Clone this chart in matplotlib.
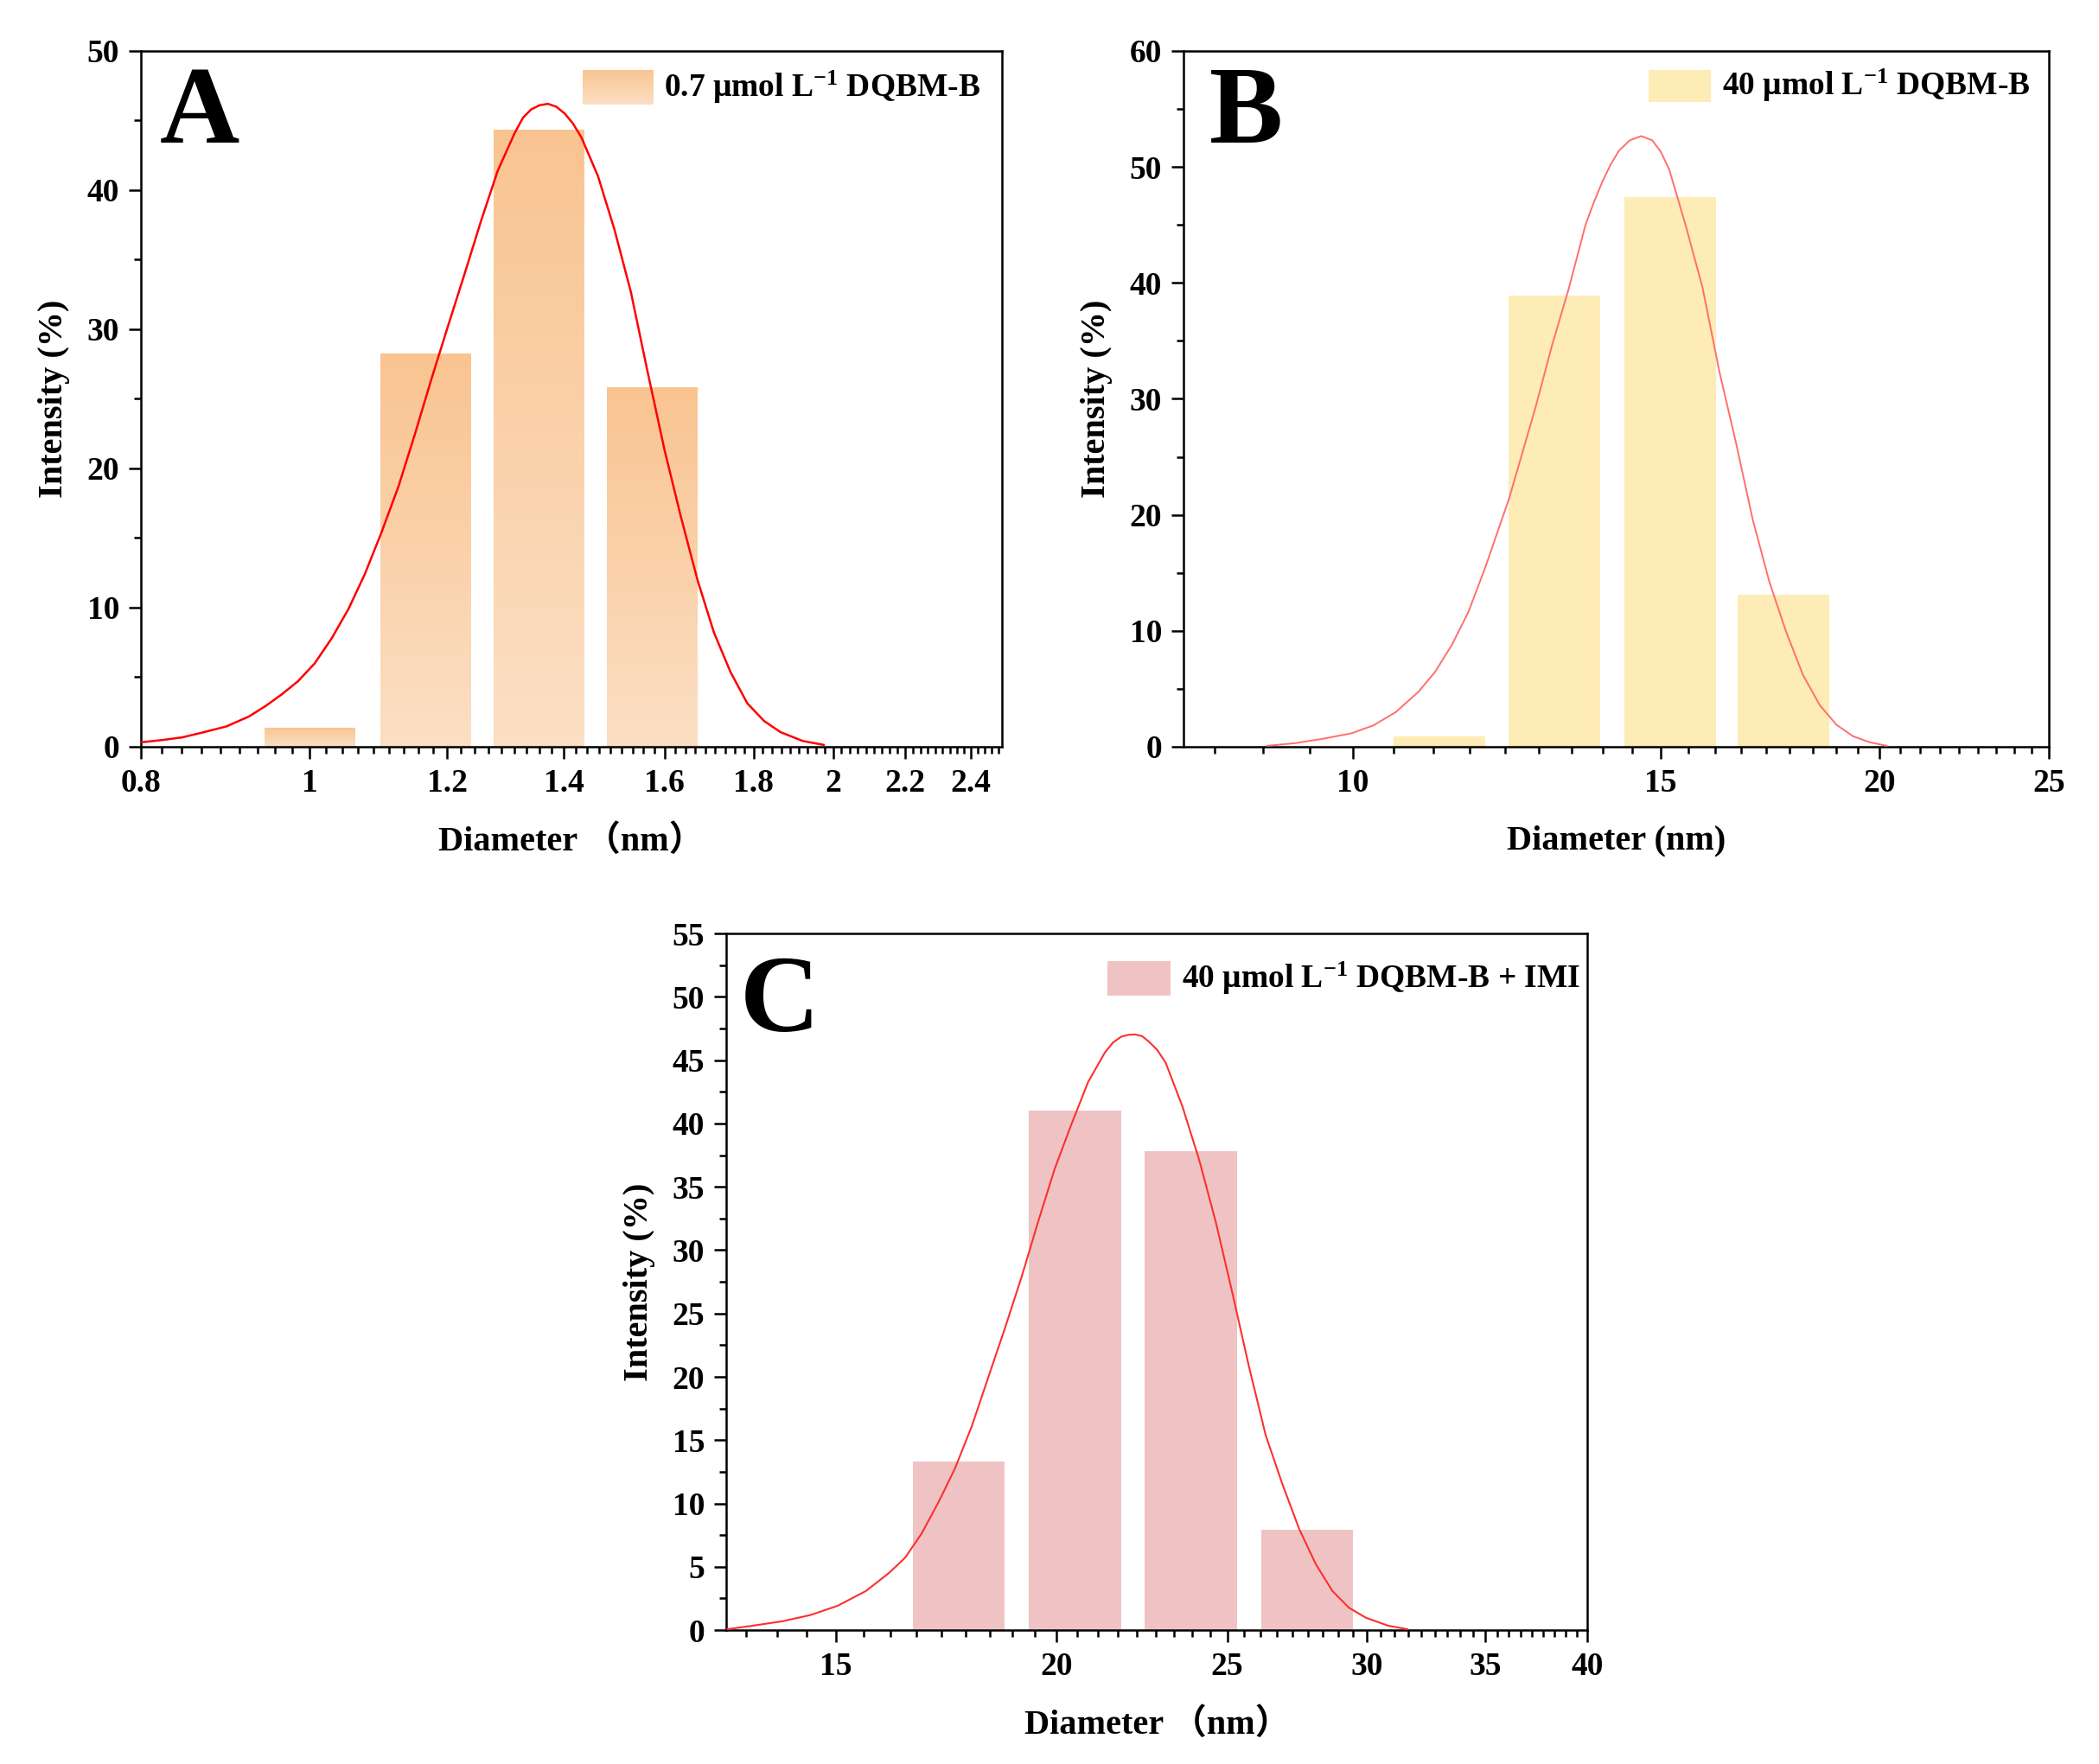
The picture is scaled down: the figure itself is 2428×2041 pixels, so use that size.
import numpy as np
import matplotlib
matplotlib.use("Agg")
from matplotlib import pyplot as plt
from matplotlib.colors import LinearSegmentedColormap
from matplotlib.ticker import MultipleLocator, NullFormatter

plt.rcParams['font.family'] = ['Liberation Serif', 'Noto Sans CJK SC']
plt.rcParams['font.weight'] = 'bold'
plt.rcParams['mathtext.fontset'] = 'custom'
plt.rcParams['mathtext.rm'] = 'Liberation Serif:bold'
plt.rcParams['mathtext.it'] = 'Liberation Serif:bold'
plt.rcParams['mathtext.bf'] = 'Liberation Serif:bold'

# ---- data ----
# panel A : 0.7 umol/L DQBM-B
a_size = [1.001, 1.166, 1.355, 1.574]
a_int = [1.4, 28.3, 44.4, 25.9]
a_fit_x = [0.801, 0.823, 0.845, 0.870, 0.896, 0.923, 0.943, 0.964, 0.985, 1.007,
           1.030, 1.053, 1.076, 1.100, 1.125, 1.150, 1.175, 1.201, 1.228, 1.255,
           1.283, 1.312, 1.3265, 1.341, 1.3559, 1.371, 1.3862, 1.402, 1.417, 1.433,
           1.465, 1.497, 1.530, 1.564, 1.600, 1.635, 1.671, 1.708, 1.746, 1.785,
           1.825, 1.865, 1.921, 1.975]
a_fit_y = [0.32, 0.48, 0.67, 1.05, 1.46, 2.17, 2.9, 3.76, 4.71, 5.99,
           7.8, 9.9, 12.4, 15.4, 18.7, 22.5, 26.4, 30.2, 34.0, 37.8,
           41.4, 44.1, 45.2, 45.8, 46.1, 46.2, 46.0, 45.5, 44.8, 43.8,
           41.0, 37.2, 32.7, 27.0, 21.3, 16.5, 12.0, 8.2, 5.35, 3.12,
           1.85, 1.05, 0.41, 0.13]

# panel B : 40 umol/L DQBM-B
b_size = [11.21, 13.04, 15.18, 17.63]
b_int = [0.9, 38.9, 47.4, 13.1]
b_fit_x = [8.937, 9.272, 9.618, 9.978, 10.275, 10.582, 10.897, 11.140, 11.387, 11.641,
           11.900, 12.283, 12.715, 12.997, 13.287, 13.583, 13.73, 13.885, 14.04, 14.195,
           14.40, 14.619, 14.83, 15.0, 15.164, 15.33, 15.502, 15.846, 16.199, 16.560,
           16.928, 17.305, 17.691, 18.085, 18.487, 18.899, 19.320, 19.750, 20.19]
b_fit_y = [0.08, 0.31, 0.69, 1.15, 1.84, 2.99, 4.71, 6.43, 8.73, 11.6,
           15.4, 21.4, 29.2, 34.6, 39.5, 45.0, 46.9, 48.7, 50.2, 51.4,
           52.3, 52.66, 52.3, 51.3, 49.8, 47.4, 44.9, 39.6, 32.4, 26.2,
           19.6, 14.2, 9.9, 6.2, 3.6, 1.9, 0.9, 0.38, 0.08]

# panel C : 40 umol/L DQBM-B + IMI
c_size = [17.61, 20.49, 23.84, 27.75]
c_int = [13.3, 41.0, 37.8, 7.9]
c_fit_x = [13.02, 13.46, 13.99, 14.51, 15.04, 15.60, 16.07, 16.42, 16.78, 17.15,
           17.52, 17.91, 18.30, 18.70, 19.11, 19.53, 19.96, 20.40, 20.85, 21.31,
           21.54, 21.77, 21.97, 22.17, 22.37, 22.58, 22.82, 23.07, 23.58, 24.10,
           24.63, 25.17, 25.72, 26.29, 26.87, 27.46, 28.07, 28.68, 29.31, 29.96,
           30.84, 31.63]
c_fit_y = [0.07, 0.35, 0.70, 1.19, 1.93, 3.09, 4.49, 5.72, 7.65, 10.1,
           12.74, 16.08, 19.94, 23.80, 27.83, 32.22, 36.43, 39.94, 43.28, 45.6,
           46.4, 46.85, 47.0, 47.03, 46.9, 46.44, 45.8, 44.8, 41.35, 37.14,
           32.22, 26.61, 20.81, 15.37, 11.51, 8.0, 5.19, 3.09, 1.76, 0.98,
           0.35, 0.07]

a_xticks = [0.8, 1.0, 1.2, 1.4, 1.6, 1.8, 2.0, 2.2, 2.4]
a_xlabels = ['0.8', '1', '1.2', '1.4', '1.6', '1.8', '2', '2.2', '2.4']
b_xticks = [10, 15, 20, 25]
c_xticks = [15, 20, 25, 30, 35, 40]

a_legend = '0.7 μmol L$^{-1}$ DQBM-B'
b_legend = '40 μmol L$^{-1}$ DQBM-B'
c_legend = '40 μmol L$^{-1}$ DQBM-B + IMI'

BAR_RATIO = 1.128   # right edge / left edge of each bar (log axis)
TICK_FS = 27
LABEL_FS = 29
LEG_FS = 27
LETTER_FS = 92


def minor_positions(majors, lo, hi, n=9):
    out = []
    for m0, m1 in zip(majors[:-1], majors[1:]):
        step = (m1 - m0) / n
        out += [m0 + k * step for k in range(1, n)]
    step = (majors[1] - majors[0]) / n
    k = 1
    while majors[0] - k * step > lo:
        out.append(majors[0] - k * step)
        k += 1
    step = (majors[-1] - majors[-2]) / n
    k = 1
    while majors[-1] + k * step < hi:
        out.append(majors[-1] + k * step)
        k += 1
    return out


def style_axes(ax, xlim, ylim, xticks, xlabels, ystep, yminor, xlabel):
    ax.set_xscale('log')
    ax.set_xlim(*xlim)
    ax.set_ylim(*ylim)
    ax.set_xticks(xticks, xlabels)
    ax.set_xticks(minor_positions(xticks, xlim[0], xlim[1]), minor=True)
    ax.xaxis.set_minor_formatter(NullFormatter())
    ax.yaxis.set_major_locator(MultipleLocator(ystep))
    ax.yaxis.set_minor_locator(MultipleLocator(yminor))
    ax.tick_params(which='both', direction='out', width=1.8, top=False, right=False,
                   labelsize=TICK_FS, pad=8)
    ax.tick_params(which='major', length=10)
    ax.tick_params(which='minor', length=6)
    for s in ax.spines.values():
        s.set_linewidth(1.8)
    for lab in ax.get_xticklabels() + ax.get_yticklabels():
        lab.set_fontweight('bold')
    ax.set_xlabel(xlabel, fontsize=LABEL_FS, fontweight='bold', labelpad=22)
    ax.set_ylabel('Intensity (%)', fontsize=LABEL_FS, fontweight='bold', labelpad=14)


def bar_edges(sizes):
    half = np.sqrt(BAR_RATIO)
    left = [s / half for s in sizes]
    width = [s * half - s / half for s in sizes]
    return left, width


def legend_box(ax, rect, text, color=None, cmap=None):
    box = ax.inset_axes(rect)
    if cmap is not None:
        box.imshow(np.linspace(0, 1, 64).reshape(-1, 1), aspect='auto', cmap=cmap,
                   extent=(0, 1, 0, 1), origin='upper')
    else:
        box.set_facecolor(color)
    box.set_xticks([])
    box.set_yticks([])
    for s in box.spines.values():
        s.set_visible(False)
    ax.text(rect[0] + rect[2] + 0.013, rect[1] + rect[3] / 2, text, transform=ax.transAxes,
            fontsize=LEG_FS, fontweight='bold', va='center', ha='left')


fig = plt.figure(figsize=(24.28, 20.41), dpi=100)

# ---------------- A ----------------
axA = fig.add_axes([0.0671, 0.5767, 0.4102, 0.3944])
grad = LinearSegmentedColormap.from_list('a', ['#F9C491', '#FCDFC4'])
left, width = bar_edges(a_size)
bars = axA.bar(left, a_int, width, align='edge', facecolor='none', edgecolor='none', zorder=1)
for b, l, w, h in zip(bars, left, width, a_int):
    im = axA.imshow(np.linspace(0, 1, 128).reshape(-1, 1), cmap=grad, aspect='auto',
                    extent=(l, l + w, 0, h), origin='upper', zorder=1)
    im.set_clip_path(b)
axA.plot(a_fit_x, a_fit_y, color='#FF0000', lw=1.8, zorder=3)
style_axes(axA, (0.8, 2.5), (0, 50), a_xticks, a_xlabels, 10, 5, 'Diameter （nm）')
axA.text(0.022, 0.868, 'A', transform=axA.transAxes, fontsize=LETTER_FS, fontweight='bold',
         va='baseline')
legend_box(axA, [0.513, 0.923, 0.082, 0.05], a_legend, cmap=grad)

# ---------------- B ----------------
axB = fig.add_axes([0.5638, 0.5767, 0.4123, 0.3944])
left, width = bar_edges(b_size)
axB.bar(left, b_int, width, align='edge', color='#FDECB6', edgecolor='none', zorder=1)
axB.plot(b_fit_x, b_fit_y, color='#FF6E6E', lw=1.4, zorder=3)
style_axes(axB, (8, 25), (0, 60), b_xticks, [str(t) for t in b_xticks], 10, 5,
           'Diameter (nm)')
axB.text(0.030, 0.868, 'B', transform=axB.transAxes, fontsize=LETTER_FS, fontweight='bold',
         va='baseline')
legend_box(axB, [0.538, 0.927, 0.071, 0.046], b_legend, color='#FDECB6')

# ---------------- C ----------------
axC = fig.add_axes([0.3460, 0.0759, 0.4102, 0.3949])
left, width = bar_edges(c_size)
axC.bar(left, c_int, width, align='edge', color='#EFC3C4', edgecolor='none', zorder=1)
axC.plot(c_fit_x, c_fit_y, color='#FF2E2E', lw=1.5, zorder=3)
style_axes(axC, (13, 40), (0, 55), c_xticks, [str(t) for t in c_xticks], 5, 2.5,
           'Diameter （nm）')
axC.text(0.016, 0.86, 'C', transform=axC.transAxes, fontsize=LETTER_FS, fontweight='bold',
         va='baseline')
legend_box(axC, [0.443, 0.911, 0.073, 0.05], c_legend, color='#EFC3C4')

fig.savefig('out.png', dpi=100, facecolor='white')
